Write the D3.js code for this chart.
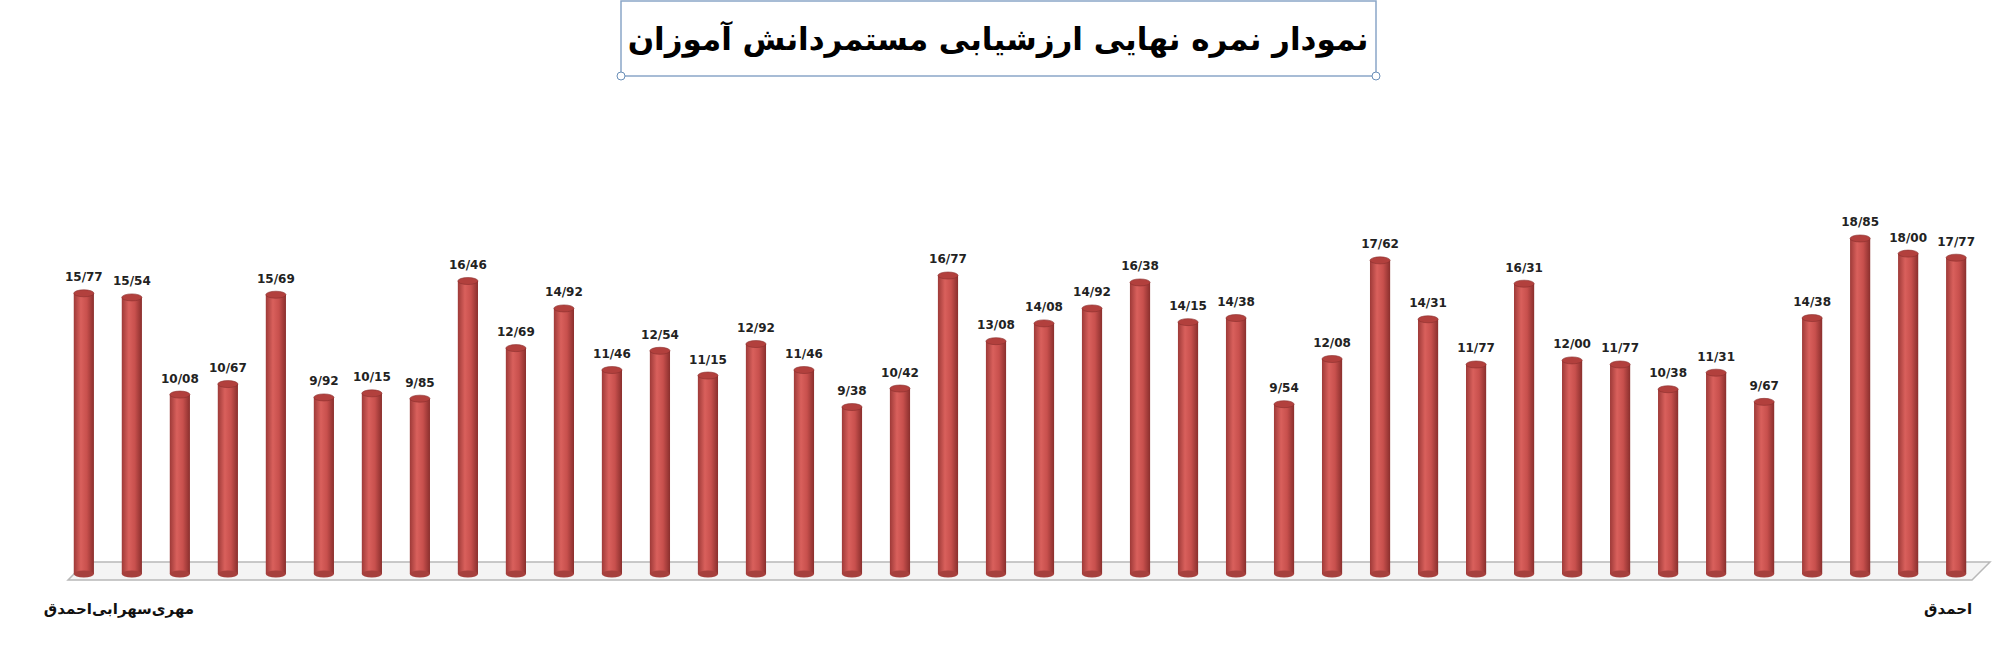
<!DOCTYPE html>
<html><head><meta charset="utf-8">
<script src="https://cdn.jsdelivr.net/npm/d3@7"></script>
<style>body{margin:0;background:#fff}svg{display:block}</style>
</head><body><div id="chart"></div>
<script>
const title = "نمودار نمره نهایی ارزشیابی مستمردانش آموزان";
const scores = [15.77,15.54,10.08,10.67,15.69,9.92,10.15,9.85,16.46,12.69,14.92,11.46,12.54,11.15,12.92,11.46,9.38,10.42,16.77,13.08,14.08,14.92,16.38,14.15,14.38,9.54,12.08,17.62,14.31,11.77,16.31,12.00,11.77,10.38,11.31,9.67,14.38,18.85,18.00,17.77];
const students = scores.map((d, i) => "s" + (i + 1));
const shownLabels = {s1: "مهری‌سهرابی‌احمدق", s40: "احمدق"};

const W = 2015, H = 672;
const svg = d3.select("#chart").append("svg").attr("width", W).attr("height", H);

const x = d3.scaleBand().domain(students).range([68, 1972]).paddingInner(0.58).paddingOuter(0.12);
const y = d3.scaleLinear().domain([0, 20]).range([574, 218]);

const defs = svg.append("defs");
const grad = defs.append("linearGradient").attr("id", "cyl");
grad.append("stop").attr("offset", "0%").attr("stop-color", "#9e3a38");
grad.append("stop").attr("offset", "35%").attr("stop-color", "#d9605c");
grad.append("stop").attr("offset", "65%").attr("stop-color", "#c8504d");
grad.append("stop").attr("offset", "100%").attr("stop-color", "#8a2f2d");

// floor
svg.append("path")
  .attr("d", `M${x.range()[0] + 18},562 L${x.range()[1] + 18},562 L${x.range()[1]},580 L${x.range()[0]},580 Z`)
  .attr("fill", "#f4f4f4").attr("stroke", "#b8b8b8").attr("stroke-width", 1.5);

// title box
svg.append("rect").attr("x", 621).attr("y", 1).attr("width", 755).attr("height", 75)
  .attr("fill", "#fff").attr("stroke", "#8aa6c8").attr("stroke-width", 1.5);
[[621, 76], [1376, 76]].forEach(p => svg.append("circle").attr("cx", p[0]).attr("cy", p[1]).attr("r", 4)
  .attr("fill", "#fff").attr("stroke", "#6a8fb8"));
svg.append("text").attr("x", 998).attr("y", 50).attr("text-anchor", "middle")
  .attr("font-family", "DejaVu Sans").attr("font-weight", "bold").attr("font-size", 31)
  .text(title);

const bw = x.bandwidth();
const g = svg.append("g").selectAll("g").data(scores).enter().append("g");
g.append("rect")
  .attr("x", (d, i) => x(students[i])).attr("y", d => y(d))
  .attr("width", bw).attr("height", d => y(0) - y(d))
  .attr("fill", "url(#cyl)");
g.append("ellipse")
  .attr("cx", (d, i) => x(students[i]) + bw / 2).attr("cy", d => y(d))
  .attr("rx", bw / 2).attr("ry", 3.5).attr("fill", "#b2403d").attr("stroke", "#8a2f2d").attr("stroke-width", 0.6);
g.append("ellipse")
  .attr("cx", (d, i) => x(students[i]) + bw / 2).attr("cy", y(0))
  .attr("rx", bw / 2).attr("ry", 3.5).attr("fill", "#a6403d");
g.append("text")
  .attr("x", (d, i) => x(students[i]) + bw / 2).attr("y", d => y(d) - 12)
  .attr("text-anchor", "middle").attr("font-family", "DejaVu Sans").attr("font-weight", "bold")
  .attr("font-size", 12).attr("fill", "#222")
  .text(d => d3.format(".2f")(d).replace(".", "/"));

const axis = d3.axisBottom(x).tickValues(Object.keys(shownLabels)).tickSize(0).tickFormat(d => shownLabels[d]);
const ax = svg.append("g").attr("transform", "translate(0,600)").call(axis);
ax.select(".domain").remove();
ax.selectAll("text").attr("font-family", "DejaVu Sans").attr("font-weight", "bold")
  .attr("font-size", 15).attr("fill", "#111")
  .attr("text-anchor", (d, i) => i === 0 ? "start" : "end")
  .attr("dx", (d, i) => i === 0 ? -40 : 16);
</script></body></html>
